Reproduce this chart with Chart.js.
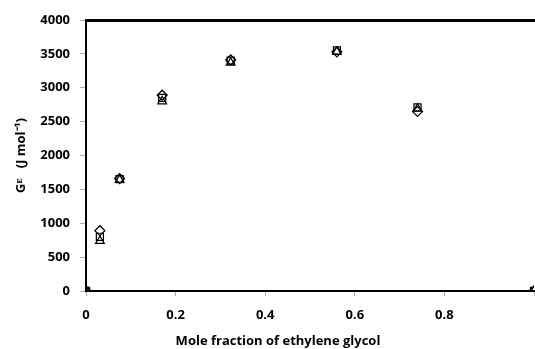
<!DOCTYPE html>
<html>
<head>
<meta charset="utf-8">
<script src="https://cdn.jsdelivr.net/npm/chart.js@4"></script>
<style>
  html, body { margin: 0; padding: 0; background: #fff; overflow: hidden; }
  #wrap { width: 545px; height: 349px; }
</style>
</head>
<body>
<div id="wrap"><canvas id="grafico" width="545" height="349"></canvas></div>
<script>
// fraccion molar de etilenglicol
const fracciones = [0, 0.031, 0.075, 0.17, 0.323, 0.56, 0.74, 1];
const serieRombo = [0, 890, 1660, 2890, 3410, 3530, 2650, 0];
const serieCuadro = [0, 800, 1650, 2850, 3400, 3550, 2710, 0];
const serieTriangulo = [0, 740, 1640, 2800, 3370, 3530, 2690, 0];
const ticksY = [0, 500, 1000, 1500, 2000, 2500, 3000, 3500, 4000];
const ticksX = [0, 0.2, 0.4, 0.6, 0.8, 1];
const tituloX = 'Mole fraction of ethylene glycol';

function puntos(valores) {
    return fracciones.map(function (x, i) { return { x: x, y: valores[i] }; });
}

function serie(valores, estilo) {
    return {
        data: puntos(valores),
        pointStyle: estilo,
        pointRadius: 5,
        pointHoverRadius: 5,
        pointBackgroundColor: 'rgba(255,255,255,0)',
        pointBorderColor: '#000',
        pointBorderWidth: 1.2,
        showLine: false
    };
}

const fuente = { family: 'Open Sans', size: 13, weight: 'bold' };

// titulo del eje x, un poco a la izquierda como en el original
const tituloEjeX = {
    id: 'tituloEjeX',
    afterDraw: function (chart) {
        const ctx = chart.ctx;
        ctx.save();
        ctx.font = 'bold 13px "Open Sans"';
        ctx.fillStyle = '#000';
        ctx.textAlign = 'center';
        ctx.textBaseline = 'middle';
        ctx.fillText(tituloX, chart.chartArea.left + 192, 341);
        ctx.restore();
    }
};

new Chart(document.getElementById('grafico').getContext('2d'), {
    type: 'scatter',
    data: {
        datasets: [
            serie(serieRombo, 'rectRot'),
            serie(serieCuadro, 'rect'),
            serie(serieTriangulo, 'triangle')
        ]
    },
    plugins: [tituloEjeX],
    options: {
        responsive: false,
        animation: false,
        layout: { padding: { top: 0, right: 8, bottom: 0, left: 0 } },
        plugins: { legend: { display: false }, tooltip: { enabled: false } },
        scales: {
            x: {
                type: 'linear',
                min: 0,
                max: 1,
                afterBuildTicks: function (eje) {
                    eje.ticks = ticksX.map(function (v) { return { value: v }; });
                },
                afterFit: function (eje) { eje.height = 58; },
                ticks: {
                    color: '#000', font: fuente, padding: 11,
                    callback: function (v) { return v === 1 ? '' : String(v); }
                },
                grid: { display: true, drawOnChartArea: false, tickLength: 5, color: '#aaa' },
                border: { color: '#000', width: 2 }
            },
            x2: {
                type: 'linear',
                position: 'top',
                min: 0,
                max: 1,
                afterFit: function (eje) { eje.height = 20; },
                ticks: { display: false },
                grid: { display: false },
                border: { color: '#000', width: 3 }
            },
            y: {
                min: 0,
                max: 4000,
                afterBuildTicks: function (eje) {
                    eje.ticks = ticksY.map(function (v) { return { value: v }; });
                },
                afterFit: function (eje) { eje.width = 86; },
                ticks: {
                    color: '#000', font: fuente, padding: 10,
                    callback: function (v) { return String(v); }
                },
                grid: { display: true, drawOnChartArea: false, tickLength: 6, color: '#aaa' },
                border: { color: '#000', width: 2 },
                title: { display: true, text: 'Gᴱ   (J mol⁻¹)', color: '#000', font: fuente, padding: { top: 13, bottom: 2 } }
            }
        }
    }
});
</script>
</body>
</html>
